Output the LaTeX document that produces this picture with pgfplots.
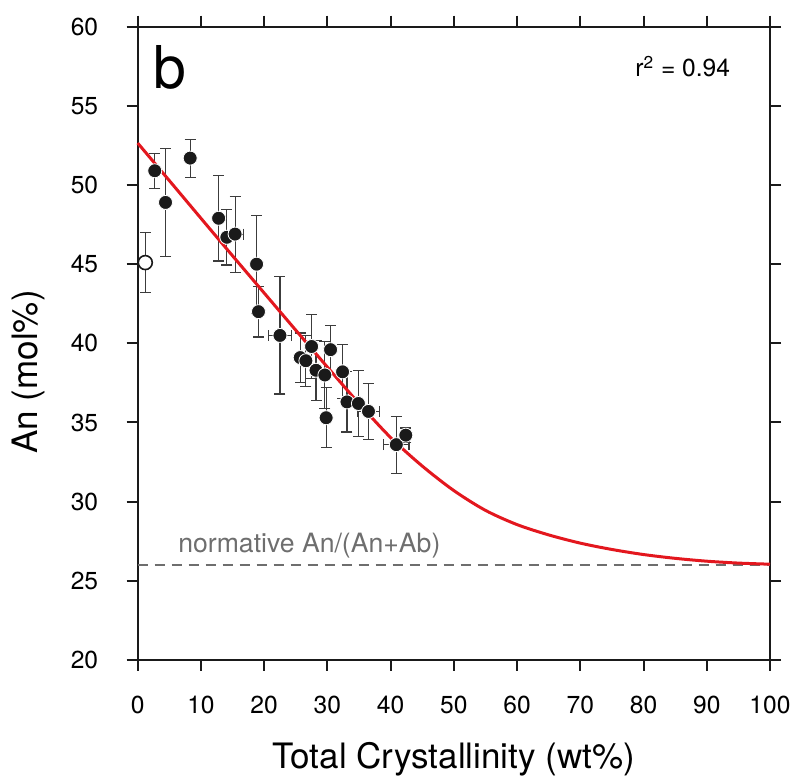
\documentclass[border=0pt]{standalone}
\usepackage{fontspec}
\setmainfont{TeX Gyre Heros}
\usepackage{pgfplots}
\pgfplotsset{compat=1.18}
\definecolor{fitred}{HTML}{E3171E}
\definecolor{normgray}{HTML}{6E6E6E}
\definecolor{ink}{HTML}{1A1A1A}
\begin{document}
\begin{tikzpicture}
\begin{axis}[
  scale only axis,
  width=316.15pt, height=316.65pt,
  xmin=0, xmax=100, ymin=20, ymax=60,
  xtick={0,10,...,100}, ytick={20,25,...,60},
  tick align=outside,
  major tick length=5.5pt,
  axis line style={line width=1pt, ink},
  every tick/.style={line width=1pt, ink},
  tick label style={font=\fontsize{12.3}{14}\selectfont},
  /pgf/number format/assume math mode=true,
  xticklabel style={anchor=north, yshift=-8.9pt},
  yticklabel style={anchor=east, xshift=-10.75pt},
  xlabel={Total Crystallinity (wt\%)},
  ylabel={An (mol\%)},
  label style={font=\fontsize{17.5}{20}\selectfont},
  xlabel style={at={(axis description cs:0.5,0)}, anchor=base, yshift=-54.5pt},
  ylabel style={at={(axis description cs:-0.1735,0.4548)}, anchor=center},
  clip=false,
]
% normative line
\addplot[normgray, line width=1.3pt, dash pattern=on 5pt off 3.5pt] coordinates {(0,26) (100,26)};
\node[anchor=base west, inner sep=0, text=normgray, font=\fontsize{13.3}{15}\selectfont] at (axis cs:6.37,26.82) {normative An/(An+Ab)};

% error bars + filled points
\addplot[only marks, mark=*, mark size=3.5pt,
  mark options={fill=ink, draw=white, line width=0.4pt},
  error bars/.cd, y dir=both, y explicit, x dir=both, x explicit,
  error bar style={line width=0.55pt, ink!85},
  error mark options={rotate=90, mark size=2.75pt, line width=0.55pt, ink!85}]
  table[x=x, y=y, x error=ex, y error=ey] {
x     y     ex   ey
2.7   50.9  0    1.1
4.4   48.9  0    3.4
8.3   51.7  0    1.2
12.8  47.9  0    2.7
14.1  46.7  0    1.75
15.4  46.9  1.3  2.4
18.8  45.0  0    3.1
19.1  42.0  0    1.6
22.5  40.5  1.8  3.7
25.7  39.1  0.8  1.55
26.6  38.9  0    1.6
27.5  39.8  0    2.0
28.2  38.3  0    1.9
29.6  38.0  0    2.1
29.8  35.3  0    1.9
30.5  39.6  0    1.55
32.4  38.2  0    1.7
33.1  36.3  0    1.9
34.9  36.2  0    2.1
36.5  35.7  1.8  1.75
40.9  33.6  2.0  1.8
42.4  34.2  0.8  0.45
};

% open point
\addplot[only marks, mark=*, mark size=3.5pt,
  mark options={fill=white, draw=ink, line width=0.8pt},
  error bars/.cd, y dir=both, y explicit,
  error bar style={line width=0.55pt, ink!85},
  error mark options={rotate=90, mark size=2.75pt, line width=0.55pt, ink!85}]
  table[x=x, y=y, y error=ey] {
x    y     ey
1.2  45.1  1.9
};

% fit curve
\addplot[fitred, line width=1.5pt, smooth] coordinates {
(0,52.65) (5,50.28) (10,47.9) (15,45.53) (20,43.18) (25,40.83) (30,38.5)
(35,36.2) (40,34.05) (45,32.25) (50,30.7) (55,29.45) (60,28.55) (65,27.9)
(70,27.38) (75,26.98) (80,26.66) (85,26.42) (90,26.24) (95,26.12) (100,26.05)
};

\node[anchor=base west, inner sep=0, font=\fontsize{29.5}{30}\selectfont] at (axis description cs:0.024,0.903) {b};
\node[anchor=base west, inner sep=0, font=\fontsize{12.3}{14}\selectfont] at (axis description cs:0.7865,0.9206) {r\textsuperscript{2} = 0.94};
\end{axis}
\pgfresetboundingbox
\path[use as bounding box] ([shift={(-68.85pt,-61.5pt)}]current axis.south west) rectangle ([shift={(12pt,13.35pt)}]current axis.north east);
\end{tikzpicture}
\end{document}
